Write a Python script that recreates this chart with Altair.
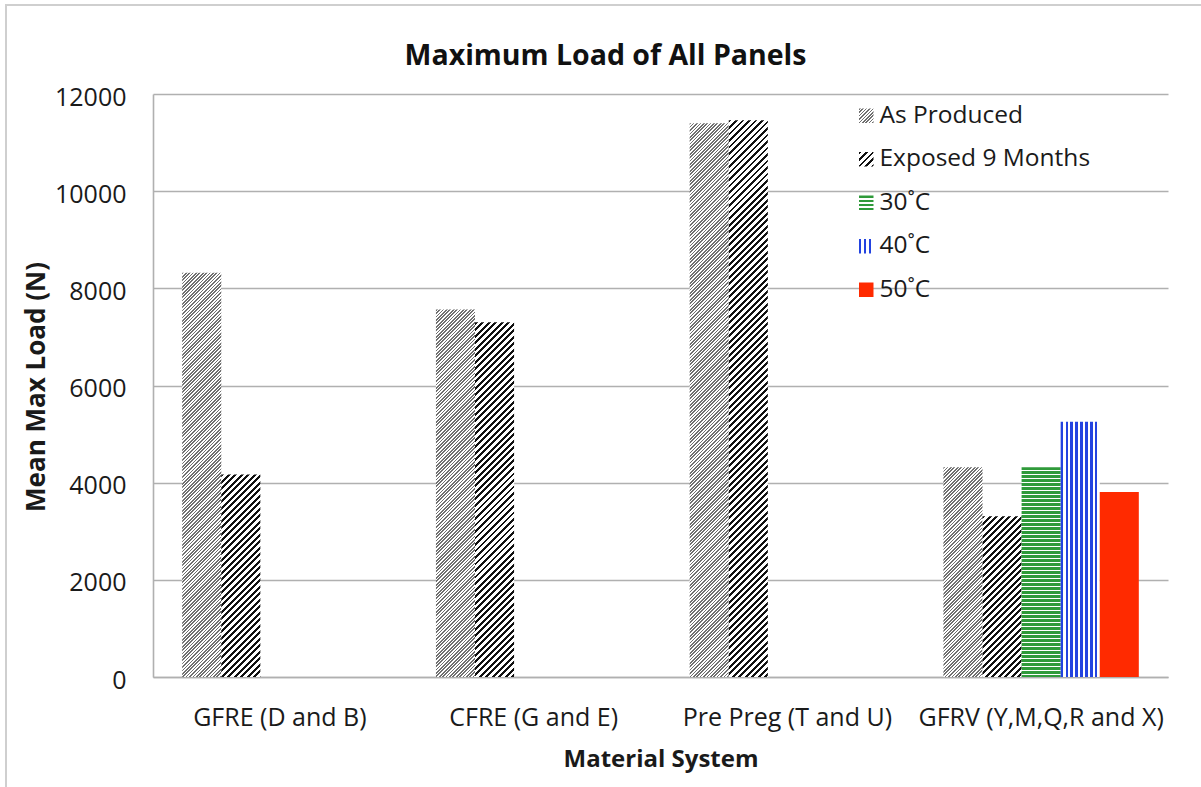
import math
import altair as alt
import pandas as pd

# ---- data -------------------------------------------------------------
materials = ["GFRE (D and B)", "CFRE (G and E)", "Pre Preg (T and U)", "GFRV (Y,M,Q,R and X)"]
series = ["As Produced", "Exposed 9 Months", "30˚C", "40˚C", "50˚C"]

as_produced = [8320, 7565, 11400, 4315]
exposed_9_months = [4170, 7300, 11460, 3310]
# temperature-conditioned panels exist only for GFRV
gfrv_temperature = [4315, 5255, 3810]

y_ticks = [0, 2000, 4000, 6000, 8000, 10000, 12000]

rows = []
for m, v in zip(materials, as_produced):
    rows.append({"material": m, "series": series[0], "load": v})
for m, v in zip(materials, exposed_9_months):
    rows.append({"material": m, "series": series[1], "load": v})
for s, v in zip(series[2:], gfrv_temperature):
    rows.append({"material": materials[3], "series": s, "load": v})
df = pd.DataFrame(rows)

# ---- geometry of the plot area -------------------------------------------
PLOT_W, PLOT_H = 1015, 583
Y_MAX = 12000
PAD_IN, PAD_OUT = 0.23, 0.115
STEP = PLOT_W / (len(materials) - PAD_IN + 2 * PAD_OUT)
BAR_W = STEP * (1 - PAD_IN) / len(series)

FONT = "Open Sans"
TEXT = "#1a1a1a"
GRID = "#b0b0b0"

# ---- hatch fills built as hard-stop linear gradients ---------------------
def stripe_stops(n, color, frac, bg="#ffffff"):
    stops = []
    k = 0
    while k < n:
        a = k / n
        b = min((k + frac) / n, 1.0)
        c = min((k + 1) / n, 1.0)
        stops += [(a, color), (b, color), (b, bg), (c, bg)]
        k += 1
    return [{"offset": round(o, 5), "color": col} for o, col in stops]


def diagonal(w, h, period, color, frac):
    # "/" hatching at 45 degrees in screen space for a w x h box
    c = (w + h) / (w * w + h * h)
    n = (w + h) / (math.sqrt(2) * period)
    return {"gradient": "linear", "x1": 0, "y1": 0,
            "x2": round(w * c, 5), "y2": round(h * c, 5),
            "stops": stripe_stops(n, color, frac)}


def horizontal(h, period, color, frac):
    return {"gradient": "linear", "x1": 0, "y1": 0, "x2": 0, "y2": 1,
            "stops": stripe_stops(h / period, color, frac)}


def vertical(w, period, color, frac):
    return {"gradient": "linear", "x1": 0, "y1": 0, "x2": 1, "y2": 0,
            "stops": stripe_stops(w / period, color, frac)}


HATCH = {
    "As Produced": ("diag", "#707070", 2.4, 0.5),
    "Exposed 9 Months": ("diag", "#111111", 4.6, 0.45),
    "30˚C": ("horiz", "#2f9a3a", 4.0, 0.62),
    "40˚C": ("vert", "#2343e0", 4.9, 0.5),
    "50˚C": ("solid", "#ff2a00"),
}


def fill_for(name, w, h):
    kind = HATCH[name]
    if kind[0] == "solid":
        return kind[1]
    _, color, period, frac = kind
    if kind[0] == "diag":
        return diagonal(w, h, period, color, frac)
    if kind[0] == "horiz":
        return horizontal(h, period, color, frac)
    return vertical(w, period, color, frac)


def js_literal(fill):
    if isinstance(fill, str):
        return "'" + fill + "'"
    stops = ",".join("{offset:%s,color:'%s'}" % (s["offset"], s["color"]) for s in fill["stops"])
    return "{gradient:'linear',x1:%s,y1:%s,x2:%s,y2:%s,stops:[%s]}" % (
        fill["x1"], fill["y1"], fill["x2"], fill["y2"], stops)


SYMBOL_SIZE = 210
side = math.sqrt(SYMBOL_SIZE)
legend_expr = js_literal(fill_for(series[-1], side, side))
for name in reversed(series[:-1]):
    legend_expr = "datum.value === '%s' ? %s : (%s)" % (
        name, js_literal(fill_for(name, side, side)), legend_expr)

# ---- shared encodings ------------------------------------------------------
x_enc = alt.X(
    "material:N", sort=materials,
    scale=alt.Scale(paddingInner=PAD_IN, paddingOuter=PAD_OUT),
    axis=alt.Axis(
        title="Material System", labelAngle=0, labelFont=FONT, labelFontSize=25,
        labelColor=TEXT, labelPadding=28, labelLimit=400, ticks=False,
        domainColor=GRID, domainWidth=1.6, titleFont=FONT, titleFontSize=24,
        titleFontWeight="bold", titleColor=TEXT, titleBaseline="alphabetic",
        titleY=89,
    ),
)
xo_enc = alt.XOffset("series:N", sort=series,
                     scale=alt.Scale(domain=series, paddingInner=0, paddingOuter=0))
y_enc = alt.Y(
    "load:Q", scale=alt.Scale(domain=[0, Y_MAX], nice=False),
    axis=alt.Axis(
        values=y_ticks, format="d", title="Mean Max Load (N)", labelFont=FONT,
        labelFontSize=25, labelColor=TEXT, labelPadding=27, labelOffset=3, ticks=False,
        domainColor=GRID, domainWidth=1.6, gridColor=GRID, gridWidth=1.6,
        titleFont=FONT, titleFontSize=26, titleFontWeight="bold", titleColor=TEXT,
        titleAngle=270, titleAlign="center", titleBaseline="alphabetic",
        titleX=-109, titleY=PLOT_H / 2 + 1,
    ),
)

base = alt.Chart(df).encode(x=x_enc, xOffset=xo_enc, y=y_enc)

# invisible points that carry the legend; their fill expression paints
# each legend square with the hatch of its series
legend_layer = base.mark_point(
    filled=True, opacity=0, fill=alt.expr(legend_expr), strokeWidth=0
).encode(
    shape=alt.Shape(
        "series:N", sort=series,
        scale=alt.Scale(domain=series, range=["square"] * len(series)),
        legend=alt.Legend(
            orient="none", legendX=701, legendY=9.5, title=None,
            symbolSize=SYMBOL_SIZE, symbolStrokeWidth=0, symbolOpacity=1,
            labelFont=FONT, labelFontSize=24.5, labelColor=TEXT, labelOffset=1,
            rowPadding=18.5, labelLimit=400,
        ),
    )
)

# one hatched bar per row, each with its own fill
bar_layers = []
for r in rows:
    h = r["load"] / Y_MAX * PLOT_H
    bar_layers.append(
        base.transform_filter(
            (alt.datum.material == r["material"]) & (alt.datum.series == r["series"])
        ).mark_bar(fill=fill_for(r["series"], BAR_W, h), strokeWidth=0)
    )

# light frame along the left and top edges of the chart area
frame_src = alt.Chart(pd.DataFrame({"k": [0]}))
frame_left = frame_src.mark_rule(color="#cfcfcf", strokeWidth=2).encode(
    x=alt.value(-147), y=alt.value(-89), y2=alt.value(PLOT_H + 110))
frame_top = frame_src.mark_rule(color="#cfcfcf", strokeWidth=2).encode(
    x=alt.value(-148), x2=alt.value(PLOT_W + 33), y=alt.value(-89))

chart = alt.layer(*bar_layers, legend_layer, frame_left, frame_top).properties(
    width=PLOT_W, height=PLOT_H,
    autosize=alt.AutoSizeParams(type="none"),
    padding={"left": 153, "top": 94, "right": 33, "bottom": 110},
    background="white",
    title=alt.TitleParams(
        "Maximum Load of All Panels", font=FONT, fontSize=28.5, fontWeight="bold",
        color="#111111", anchor="middle", dx=-55, offset=-89, baseline="alphabetic",
    ),
).configure_view(stroke=None)

chart.save("out.html", embed_options={"renderer": "svg", "actions": False})
